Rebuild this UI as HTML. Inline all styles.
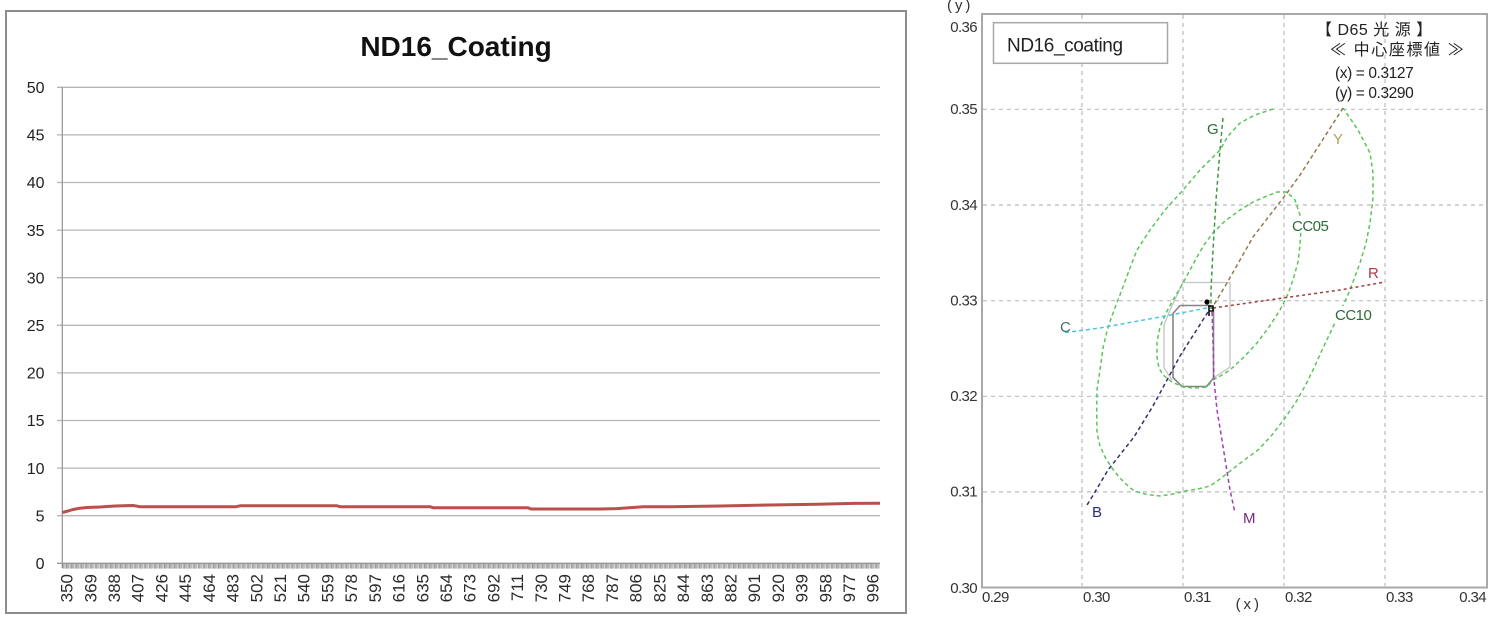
<!DOCTYPE html>
<html>
<head>
<meta charset="utf-8">
<style>
  html, body { margin:0; padding:0; background:#fff; }
  body { width:1500px; height:622px; overflow:hidden; }
  svg { display:block; }
  .ax { font-family:"Liberation Sans","Noto Sans CJK JP",sans-serif; }
</style>
</head>
<body>
<svg width="1500" height="622" viewBox="0 0 1500 622" xmlns="http://www.w3.org/2000/svg" class="ax">
  <defs>
    <pattern id="tk" x="62.3" y="0" width="1.256" height="8" patternUnits="userSpaceOnUse">
      <rect x="0" y="0" width="0.62" height="8" fill="#6e6e6e"/>
    </pattern>
  </defs>
  <rect x="0" y="0" width="1500" height="622" fill="#fff"/>

  <!-- ============ LEFT CHART ============ -->
  <rect x="6" y="11" width="900" height="602" fill="#fff" stroke="#8c8c8c" stroke-width="2"/>
  <text x="456" y="56" font-size="28" font-weight="bold" text-anchor="middle" fill="#111">ND16_Coating</text>

  <g stroke="#b6b6b6" stroke-width="1.3">
    <line x1="57" y1="87.3" x2="880" y2="87.3"/>
    <line x1="57" y1="134.9" x2="880" y2="134.9"/>
    <line x1="57" y1="182.5" x2="880" y2="182.5"/>
    <line x1="57" y1="230.1" x2="880" y2="230.1"/>
    <line x1="57" y1="277.7" x2="880" y2="277.7"/>
    <line x1="57" y1="325.3" x2="880" y2="325.3"/>
    <line x1="57" y1="372.9" x2="880" y2="372.9"/>
    <line x1="57" y1="420.5" x2="880" y2="420.5"/>
    <line x1="57" y1="468.1" x2="880" y2="468.1"/>
    <line x1="57" y1="515.7" x2="880" y2="515.7"/>
  </g>
  <line x1="57" y1="563.3" x2="880" y2="563.3" stroke="#9a9a9a" stroke-width="1.3"/>
  <line x1="62.3" y1="87" x2="62.3" y2="568" stroke="#9a9a9a" stroke-width="1.3"/>
  <rect x="62.3" y="563.8" width="817.7" height="4.8" fill="url(#tk)"/>

  <g font-size="16" fill="#222" text-anchor="end">
    <text x="44.5" y="93">50</text>
    <text x="44.5" y="140.6">45</text>
    <text x="44.5" y="188.2">40</text>
    <text x="44.5" y="235.8">35</text>
    <text x="44.5" y="283.4">30</text>
    <text x="44.5" y="331">25</text>
    <text x="44.5" y="378.6">20</text>
    <text x="44.5" y="426.2">15</text>
    <text x="44.5" y="473.8">10</text>
    <text x="44.5" y="521.4">5</text>
    <text x="44.5" y="569">0</text>
  </g>

  <g font-size="17" fill="#2a2a2a" text-anchor="end">
    <text transform="translate(72.6,574) rotate(-90)">350</text>
    <text transform="translate(96.3,574) rotate(-90)">369</text>
    <text transform="translate(120.0,574) rotate(-90)">388</text>
    <text transform="translate(143.7,574) rotate(-90)">407</text>
    <text transform="translate(167.4,574) rotate(-90)">426</text>
    <text transform="translate(191.2,574) rotate(-90)">445</text>
    <text transform="translate(214.9,574) rotate(-90)">464</text>
    <text transform="translate(238.6,574) rotate(-90)">483</text>
    <text transform="translate(262.3,574) rotate(-90)">502</text>
    <text transform="translate(286.0,574) rotate(-90)">521</text>
    <text transform="translate(309.7,574) rotate(-90)">540</text>
    <text transform="translate(333.4,574) rotate(-90)">559</text>
    <text transform="translate(357.1,574) rotate(-90)">578</text>
    <text transform="translate(380.8,574) rotate(-90)">597</text>
    <text transform="translate(404.5,574) rotate(-90)">616</text>
    <text transform="translate(428.3,574) rotate(-90)">635</text>
    <text transform="translate(452.0,574) rotate(-90)">654</text>
    <text transform="translate(475.7,574) rotate(-90)">673</text>
    <text transform="translate(499.4,574) rotate(-90)">692</text>
    <text transform="translate(523.1,574) rotate(-90)">711</text>
    <text transform="translate(546.8,574) rotate(-90)">730</text>
    <text transform="translate(570.5,574) rotate(-90)">749</text>
    <text transform="translate(594.2,574) rotate(-90)">768</text>
    <text transform="translate(617.9,574) rotate(-90)">787</text>
    <text transform="translate(641.7,574) rotate(-90)">806</text>
    <text transform="translate(665.4,574) rotate(-90)">825</text>
    <text transform="translate(689.1,574) rotate(-90)">844</text>
    <text transform="translate(712.8,574) rotate(-90)">863</text>
    <text transform="translate(736.5,574) rotate(-90)">882</text>
    <text transform="translate(760.2,574) rotate(-90)">901</text>
    <text transform="translate(783.9,574) rotate(-90)">920</text>
    <text transform="translate(807.6,574) rotate(-90)">939</text>
    <text transform="translate(831.3,574) rotate(-90)">958</text>
    <text transform="translate(855.0,574) rotate(-90)">977</text>
    <text transform="translate(878.7,574) rotate(-90)">996</text>
  </g>

  <polyline fill="none" stroke="#b8504d" stroke-width="3" stroke-linejoin="round"
    points="62.3,512.5 68,511 73,509.5 80,508.2 87,507.5 100,507 115,506 133,505.5 140,506.7 236,506.7 240,505.8 337,505.8 340,506.7 430,506.7 433,507.7 528,507.7 531,509 570,509 600,509 617,508.6 643,506.8 670,506.7 720,506 770,505 817,504.3 853,503.4 880,503.3"/>

  <!-- ============ RIGHT CHART ============ -->
  <rect x="982" y="14" width="505" height="573.5" fill="#fff" stroke="#a8a8a8" stroke-width="2"/>
  <g stroke="#bcbcbc" stroke-width="1.2" stroke-dasharray="4,4">
    <line x1="1082" y1="15" x2="1082" y2="586"/>
    <line x1="1183" y1="15" x2="1183" y2="586"/>
    <line x1="1284" y1="15" x2="1284" y2="586"/>
    <line x1="1385" y1="15" x2="1385" y2="586"/>
    <line x1="983" y1="109.3" x2="1486" y2="109.3"/>
    <line x1="983" y1="205" x2="1486" y2="205"/>
    <line x1="983" y1="300.7" x2="1486" y2="300.7"/>
    <line x1="983" y1="396.3" x2="1486" y2="396.3"/>
    <line x1="983" y1="491.9" x2="1486" y2="491.9"/>
  </g>

  <!-- axis labels -->
  <g font-size="15" fill="#333" letter-spacing="-0.6">
    <text x="947" y="10">( y )</text>
    <g text-anchor="end">
      <text x="977" y="32">0.36</text>
      <text x="977" y="114">0.35</text>
      <text x="977" y="210">0.34</text>
      <text x="977" y="305.5">0.33</text>
      <text x="977" y="401">0.32</text>
      <text x="977" y="496.5">0.31</text>
      <text x="977" y="593">0.30</text>
    </g>
    <text x="982" y="602">0.29</text>
    <text x="1083" y="602">0.30</text>
    <text x="1184" y="602">0.31</text>
    <text x="1285" y="602">0.32</text>
    <text x="1386" y="602">0.33</text>
    <text x="1486" y="602" text-anchor="end">0.34</text>
    <text x="1247" y="609" text-anchor="middle">( x )</text>
  </g>

  <!-- legend box -->
  <rect x="993.5" y="22.7" width="174" height="40.6" fill="#fff" stroke="#a8a8a8" stroke-width="1.5"/>
  <text x="1007" y="51.5" font-size="19" letter-spacing="-0.4" fill="#222">ND16_coating</text>

  <!-- annotation -->
  <g fill="#222" font-family="'Liberation Sans','Noto Sans CJK JP',sans-serif">
    <text x="1316" y="35" font-size="16" letter-spacing="0.5">【 D65 光 源 】</text>
    <text x="1330" y="55" font-size="16" letter-spacing="1.6">≪ 中心座標値 ≫</text>
    <text x="1335" y="78" font-size="15.5" letter-spacing="-0.4">(x) = 0.3127</text>
    <text x="1335" y="98" font-size="15.5" letter-spacing="-0.4">(y) = 0.3290</text>
  </g>

  <!-- octagons -->
  <path d="M1183,282.5 L1230,282.5 L1230,367 L1215,377 M1183,282.5 L1170,310 L1164,325 L1164,368 L1172,380"
        fill="none" stroke="#c4c4c4" stroke-width="1.3"/>
  <path d="M1180,305.5 L1210,305.5 L1213.5,309 L1213.5,378 L1206.5,386.5 L1182,386.5 L1173,377.5 L1173,313.5 Z"
        fill="none" stroke="#858585" stroke-width="1.6"/>

  <!-- ellipses -->
  <g fill="none" stroke="#5cc45c" stroke-width="1.5" stroke-dasharray="4,3">
    <path d="M1273,109 L1255,115 L1240,123 L1228,136 L1220,150 L1200,170 L1183,190 L1165,210 L1150,230 L1137,250 L1130,268 L1123,287 L1116,305 L1108,327 L1103,348 L1100,370 L1097,390 L1096.7,410 L1097,433 L1100,446 L1105,457 L1112,468 L1119,477 L1127,485 L1134,491 L1147,494.5 L1160,496 L1173,494 L1185,491 L1198,489 L1210,486 L1220,479 L1229,472 L1243,461 L1258,450 L1272,435 L1285,418 L1296,402 L1305,386 L1313,370 L1323,348 L1333,327 L1342,308 L1350,290 L1360,263 L1366,243 L1370,223 L1373,198 L1373,173 L1370,153 L1358,130 L1343,108"/>
    <path d="M1213,380 L1222,375 L1230,370 L1244,357 L1257,343 L1269,327 L1280,310 L1288,294 L1293,280 L1298,262 L1300,245 L1301,228 L1300,215 L1295,200 L1287,192 L1277,192 L1267,196 L1253,202 L1240,210 L1225,221 L1213,233 L1204,245 L1197,257 L1190,270 L1183,283 L1173,300 L1166,313 L1160,327 L1157,342 L1157,357 L1159,368 L1163,375 L1172,382 L1183,387 L1195,388 L1207,387 Z"/>
  </g>

  <!-- direction lines -->
  <g fill="none" stroke-width="1.5" stroke-dasharray="4,3">
    <path d="M1223,118 L1220,150 L1216,200 L1213,250 L1211,290 L1211,309" stroke="#3f9a3f"/>
    <path d="M1343,108 L1327,133 L1300,175 L1287,193 L1253,237 L1227,283 L1212,308" stroke="#94784a"/>
    <path d="M1213,308 L1290,297 L1340,290 L1385,282" stroke="#a33c3c" stroke-dasharray="3,3"/>
    <path d="M1207,308 L1160,317 L1100,328 L1062,333" stroke="#4cc6de"/>
    <path d="M1208,312 L1180,356 L1153,406 L1134,437 L1108,470 L1092,497 L1087,505" stroke="#2f2f6e"/>
    <path d="M1212,312 L1213,340 L1214,380 L1217,410 L1222,440 L1226,465 L1230,490 L1235,513" stroke="#a040b0"/>
  </g>

  <!-- markers -->
  <circle cx="1207" cy="302" r="2.6" fill="#000"/>
  <path d="M1208,306 L1213,306 L1213,311 L1209,311 M1209,306 L1209,316" fill="none" stroke="#111" stroke-width="1.6"/>

  <!-- series labels -->
  <g font-size="15">
    <text x="1207" y="134" fill="#2d6b3a">G</text>
    <text x="1333" y="144" fill="#b0a060">Y</text>
    <rect x="1292" y="216" width="41" height="16" fill="#fff"/>
    <text x="1292" y="231" fill="#2d6b3a" letter-spacing="-0.5">CC05</text>
    <text x="1368" y="278" fill="#b03a4a">R</text>
    <rect x="1335" y="306" width="41" height="16" fill="#fff"/>
    <text x="1335" y="320" fill="#2d6b3a" letter-spacing="-0.5">CC10</text>
    <text x="1060" y="332" fill="#3f6f6f">C</text>
    <text x="1092" y="517" fill="#2a2a80">B</text>
    <text x="1243" y="523" fill="#7a2a7a">M</text>
  </g>
</svg>
</body>
</html>
